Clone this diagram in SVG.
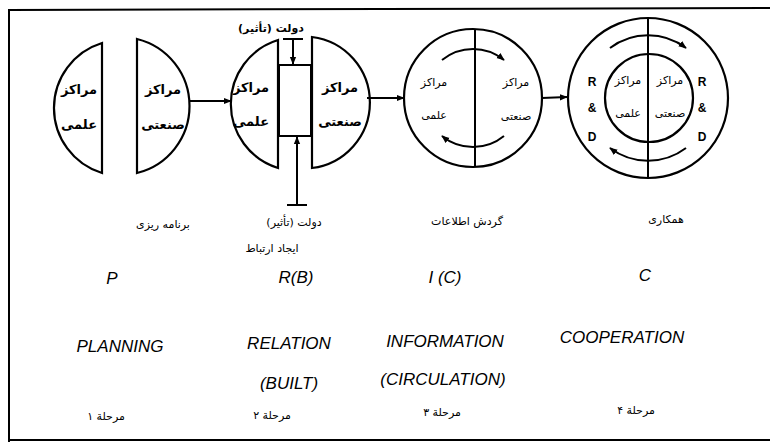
<svg xmlns="http://www.w3.org/2000/svg" width="770" height="442" viewBox="0 0 770 442">
<defs>
<style>
.sh{fill:#fff;stroke:#000;stroke-width:2.2}
.ln{fill:none;stroke:#000;stroke-width:2}
.fa{font-family:"DejaVu Sans",sans-serif;fill:#000;text-anchor:middle}
.in1{font-size:13px;font-weight:bold}
.in3{font-size:11px}
.lb{font-size:11px}
.en{font-family:"Liberation Sans",Arial,sans-serif;font-style:italic;font-size:17px;fill:#000;text-anchor:middle}
.rd{font-family:"Liberation Sans",Arial,sans-serif;font-weight:bold;font-size:12px;fill:#000;text-anchor:middle}
</style>
<marker id="ah" viewBox="0 0 10 10" refX="9" refY="5" markerWidth="8" markerHeight="8" markerUnits="userSpaceOnUse" orient="auto">
<path d="M0,1 L10,5 L0,9 Z" fill="#000"/>
</marker>
</defs>
<rect width="770" height="442" fill="#fff"/>
<path d="M770,8 L9,10 L9,442 M9,440 L770,440" fill="none" stroke="#000" stroke-width="2"/>

<g id="stage1">
<path class="sh" d="M102,43 A68,68 0 0 0 102,173 Z"/>
<path class="sh" d="M137,39 A69,69 0 0 1 137,173 Z"/>
<text class="fa in1" x="79" y="94" direction="rtl">مراکز</text>
<text class="fa in1" x="79" y="129" direction="rtl">علمی</text>
<text class="fa in1" x="163" y="94" direction="rtl">مراکز</text>
<text class="fa in1" x="163" y="129" direction="rtl">صنعتی</text>
<text class="fa lb" x="163" y="228" direction="rtl">برنامه ریزی</text>
<text class="en" x="112" y="284">P</text>
<text class="en" x="120" y="352">PLANNING</text>
<text class="fa lb" x="106" y="420" direction="rtl">مرحلة ۱</text>
</g>

<g id="stage2">
<path class="sh" d="M278,40 A67,67 0 0 0 278,168 Z"/>
<path class="sh" d="M312,37 A66,66 0 0 1 312,168 Z"/>
<rect class="ln" x="279" y="65" width="32" height="71"/>
<text class="fa in1" x="251" y="92" direction="rtl">مراکز</text>
<text class="fa in1" x="251" y="126" direction="rtl">علمی</text>
<text class="fa in1" x="340" y="92" direction="rtl">مراکز</text>
<text class="fa in1" x="340" y="126" direction="rtl">صنعتی</text>
<text class="fa lb" x="271" y="32" direction="rtl" font-weight="bold">دولت (تأثیر)</text>
<text class="fa lb" x="294" y="226" direction="rtl">دولت (تأثیر)</text>
<text class="fa lb" x="272" y="252" direction="rtl">ایجاد ارتباط</text>
<text class="en" x="296" y="283">R(B)</text>
<text class="en" x="289" y="349">RELATION</text>
<text class="en" x="289" y="389">(BUILT)</text>
<text class="fa lb" x="272" y="419" direction="rtl">مرحلة ۲</text>
</g>

<g id="stage3">
<circle class="sh" cx="473" cy="98" r="69"/>
<line class="ln" x1="475" y1="29" x2="475" y2="167"/>
<text class="fa in3" x="434" y="86" direction="rtl">مراکز</text>
<text class="fa in3" x="434" y="119" direction="rtl">علمی</text>
<text class="fa in3" x="516" y="86" direction="rtl">مراکز</text>
<text class="fa in3" x="516" y="120" direction="rtl">صنعتی</text>
<text class="fa lb" x="467" y="225" direction="rtl">گردش اطلاعات</text>
<text class="en" x="445" y="283">I (C)</text>
<text class="en" x="445" y="347">INFORMATION</text>
<text class="en" x="443" y="385">(CIRCULATION)</text>
<text class="fa lb" x="442" y="416" direction="rtl">مرحلة ۳</text>
</g>

<g id="stage4">
<circle class="sh" cx="648" cy="98" r="80"/>
<circle class="sh" cx="649" cy="98" r="44"/>
<line class="ln" x1="648" y1="18" x2="648" y2="178"/>
<text class="fa in3" x="628" y="84" direction="rtl">مراکز</text>
<text class="fa in3" x="628" y="117" direction="rtl">علمی</text>
<text class="fa in3" x="670" y="84" direction="rtl">مراکز</text>
<text class="fa in3" x="670" y="117" direction="rtl">صنعتی</text>
<text class="rd" x="592" y="86">R</text>
<text class="rd" x="592" y="112">&amp;</text>
<text class="rd" x="592" y="141">D</text>
<text class="rd" x="702" y="86">R</text>
<text class="rd" x="702" y="112">&amp;</text>
<text class="rd" x="702" y="141">D</text>
<text class="fa lb" x="666" y="223" direction="rtl">همکاری</text>
<text class="en" x="645" y="281">C</text>
<text class="en" x="622" y="343">COOPERATION</text>
<text class="fa lb" x="636" y="414" direction="rtl">مرحلة ۴</text>
</g>

<g id="connectors">
<line class="ln" x1="190" y1="101" x2="231" y2="101" marker-end="url(#ah)"/>
<line class="ln" x1="367" y1="98" x2="404" y2="98" marker-end="url(#ah)"/>
<line class="ln" x1="542" y1="98" x2="567" y2="97" marker-end="url(#ah)"/>
<path class="ln" d="M283,39 L303,39 M293,39 L293,64" marker-end="url(#ah)"/>
<path class="ln" d="M287,205 L307,205 M297,205 L297,137" marker-end="url(#ah)"/>
<path class="ln" d="M442,60 A49,49 0 0 1 504,60" marker-end="url(#ah)"/>
<path class="ln" d="M504,136 A49,49 0 0 1 442,136" marker-end="url(#ah)"/>
<path class="ln" d="M610,48 A63,63 0 0 1 686,48" marker-end="url(#ah)"/>
<path class="ln" d="M686,148 A63,63 0 0 1 610,148" marker-end="url(#ah)"/>
</g>
</svg>
